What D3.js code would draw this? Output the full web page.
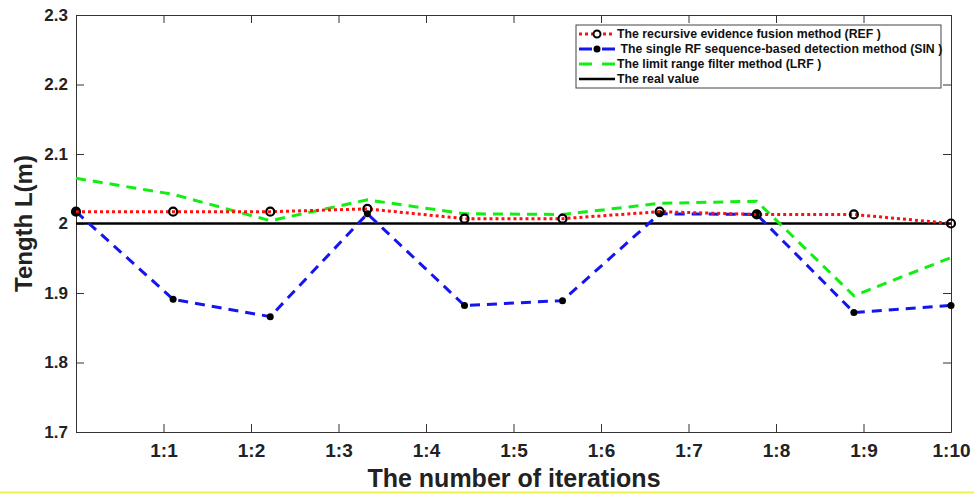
<!DOCTYPE html>
<html>
<head>
<meta charset="utf-8">
<script src="https://cdn.jsdelivr.net/npm/d3@7"></script>
<style>
  body { margin: 0; background: #fff; }
  svg { display: block; }
  .tick text { font-family: "Liberation Sans", Arial, sans-serif; font-weight: bold; fill: #222; }
</style>
</head>
<body>
<script>
// iteration positions of the samples (10 samples spread over the axis)
let sampleX = [0, 1.11, 2.22, 3.33, 4.44, 5.56, 6.67, 7.78, 8.89, 10];

let refValues = [2.017, 2.017, 2.017, 2.021, 2.007, 2.007, 2.017, 2.013, 2.013, 2.0];
let sinValues = [2.017, 1.891, 1.866, 2.014, 1.882, 1.889, 2.014, 2.013, 1.872, 1.882];
let lrfValues = [2.065, 2.042, 2.004, 2.034, 2.014, 2.013, 2.029, 2.032, 1.896, 1.951];
let realValue = 2.0;

let xTicks = [1, 2, 3, 4, 5, 6, 7, 8, 9, 10];
let xTickLabels = ["1:1", "1:2", "1:3", "1:4", "1:5", "1:6", "1:7", "1:8", "1:9", "1:10"];
let yTicks = [1.7, 1.8, 1.9, 2.0, 2.1, 2.2, 2.3];

let legendLabels = [
  "The recursive evidence fusion method (REF )",
  " The single RF sequence-based detection method (SIN )",
  "The limit range filter method (LRF )",
  "The real value"
];

let width = 974, height = 495;

let svg = d3.select("body").append("svg")
    .attr("width", width)
    .attr("height", height);

svg.append("rect")
    .attr("width", width)
    .attr("height", height)
    .attr("fill", "#fff");

let x = d3.scaleLinear().domain([0, 10]).range([76, 951]);
let y = d3.scaleLinear().domain([1.7, 2.3]).range([432, 15]);

// axes, matlab style box with inward ticks on all four sides
let bottom = svg.append("g")
    .attr("transform", "translate(0," + y(1.7) + ")")
    .call(d3.axisBottom(x).tickValues(xTicks).tickSize(-8).tickSizeOuter(0).tickPadding(12)
      .tickFormat((d, i) => xTickLabels[i]));
bottom.selectAll(".tick text").attr("font-size", 19);

let left = svg.append("g")
    .attr("transform", "translate(" + x(0) + ",0)")
    .call(d3.axisLeft(y).tickValues(yTicks).tickSize(-8).tickSizeOuter(0).tickPadding(8)
      .tickFormat(d => d === 2 ? "2" : d3.format(".1f")(d)));
left.selectAll(".tick text").attr("font-size", 17);

svg.append("g")
    .attr("transform", "translate(0," + y(2.3) + ")")
    .call(d3.axisTop(x).tickValues(xTicks).tickSize(-8).tickSizeOuter(0).tickFormat(""));

svg.append("g")
    .attr("transform", "translate(" + x(10) + ",0)")
    .call(d3.axisRight(y).tickValues(yTicks).tickSize(-8).tickSizeOuter(0).tickFormat(""));

svg.selectAll(".domain, .tick line").attr("stroke", "#333").attr("stroke-width", 1);

// axis titles
svg.append("text")
    .attr("x", 514)
    .attr("y", 487)
    .attr("text-anchor", "middle")
    .attr("font-family", "Liberation Sans, Arial, sans-serif")
    .attr("font-weight", "bold")
    .attr("font-size", 25)
    .attr("fill", "#222")
    .text("The number of iterations");

svg.append("text")
    .attr("transform", "translate(32," + y(2.0) + ") rotate(-90)")
    .attr("text-anchor", "middle")
    .attr("font-family", "Liberation Sans, Arial, sans-serif")
    .attr("font-weight", "bold")
    .attr("font-size", 24)
    .attr("fill", "#222")
    .text("Tength L(m)");

let line = d3.line()
    .x((d, i) => x(sampleX[i]))
    .y(d => y(d));

// real value
svg.append("line")
    .attr("x1", x(0))
    .attr("x2", x(10))
    .attr("y1", y(realValue))
    .attr("y2", y(realValue))
    .attr("stroke", "#000")
    .attr("stroke-width", 2.5);

svg.append("path")
    .attr("d", line(lrfValues))
    .attr("fill", "none")
    .attr("stroke", "#11ee11")
    .attr("stroke-width", 3)
    .attr("stroke-dasharray", "10,7");

svg.append("path")
    .attr("d", line(sinValues))
    .attr("fill", "none")
    .attr("stroke", "#1515ee")
    .attr("stroke-width", 3)
    .attr("stroke-dasharray", "10,7");

svg.selectAll(".sin-dot")
    .data(sinValues)
    .enter().append("circle")
    .attr("class", "sin-dot")
    .attr("cx", (d, i) => x(sampleX[i]))
    .attr("cy", d => y(d))
    .attr("r", 3.5)
    .attr("fill", "#000");

svg.append("path")
    .attr("d", line(refValues))
    .attr("fill", "none")
    .attr("stroke", "#ff1010")
    .attr("stroke-width", 3)
    .attr("stroke-dasharray", "3,3");

svg.selectAll(".ref-dot")
    .data(refValues)
    .enter().append("circle")
    .attr("class", "ref-dot")
    .attr("cx", (d, i) => x(sampleX[i]))
    .attr("cy", d => y(d))
    .attr("r", 4)
    .attr("fill", "none")
    .attr("stroke", "#000")
    .attr("stroke-width", 2.2);

// legend
let legend = svg.append("g").attr("transform", "translate(576,25)");

legend.append("rect")
    .attr("width", 365)
    .attr("height", 63)
    .attr("fill", "#fff")
    .attr("stroke", "#444")
    .attr("stroke-width", 1);

let rowY = d => 9 + d * 15;

// REF sample
legend.append("line")
    .attr("x1", 3).attr("x2", 39).attr("y1", rowY(0)).attr("y2", rowY(0))
    .attr("stroke", "#ff1010").attr("stroke-width", 3).attr("stroke-dasharray", "3,3");
legend.append("circle")
    .attr("cx", 21).attr("cy", rowY(0)).attr("r", 3.5)
    .attr("fill", "#fff").attr("stroke", "#000").attr("stroke-width", 2);

// SIN sample
legend.append("line")
    .attr("x1", 3).attr("x2", 39).attr("y1", rowY(1)).attr("y2", rowY(1))
    .attr("stroke", "#1515ee").attr("stroke-width", 3).attr("stroke-dasharray", "13,10");
legend.append("circle")
    .attr("cx", 21).attr("cy", rowY(1)).attr("r", 3.5)
    .attr("fill", "#000");

// LRF sample
legend.append("line")
    .attr("x1", 3).attr("x2", 39).attr("y1", rowY(2)).attr("y2", rowY(2))
    .attr("stroke", "#11ee11").attr("stroke-width", 3).attr("stroke-dasharray", "13,10");

// real value sample
legend.append("line")
    .attr("x1", 3).attr("x2", 39).attr("y1", rowY(3)).attr("y2", rowY(3))
    .attr("stroke", "#000").attr("stroke-width", 2.5);

legend.selectAll(".label")
    .data(legendLabels)
    .enter().append("text")
    .attr("class", "label")
    .attr("x", 41)
    .attr("y", (d, i) => rowY(i))
    .attr("dy", "0.36em")
    .attr("xml:space", "preserve")
    .attr("font-family", "Liberation Sans, Arial, sans-serif")
    .attr("font-weight", "bold")
    .attr("font-size", 12.3)
    .attr("fill", "#111")
    .text(d => d);

// yellow edge at the bottom of the screenshot
svg.append("line")
    .attr("x1", 0).attr("x2", width).attr("y1", 492.5).attr("y2", 492.5)
    .attr("stroke", "#f4f04a").attr("stroke-width", 2);
</script>
</body>
</html>
